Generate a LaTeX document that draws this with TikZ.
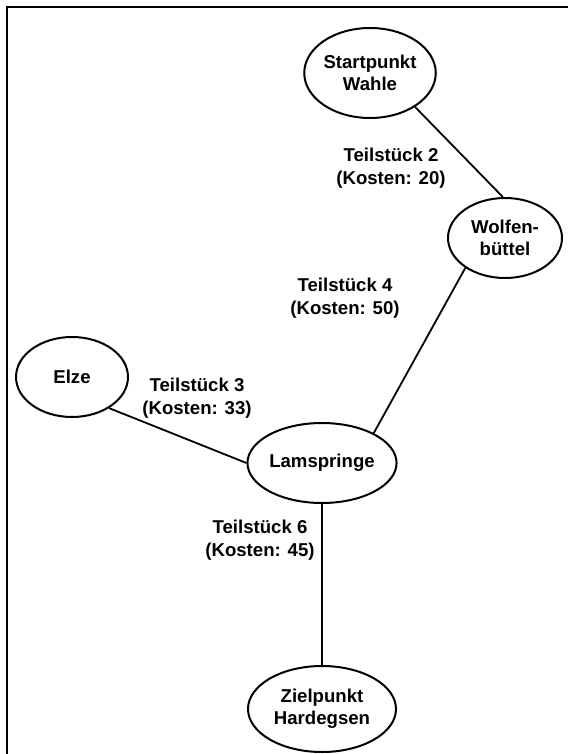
\documentclass[tikz,border=0pt]{standalone}
\usepackage{fontspec}
\setmainfont{Liberation Sans}
\usetikzlibrary{shapes.geometric}
\begin{document}
\begin{tikzpicture}[x=1pt,y=-1pt,
  city/.style={ellipse,draw,line width=2pt,inner sep=0pt,align=center,font=\fontsize{18.6}{22}\selectfont\bfseries},
  lbl/.style={align=center,inner sep=0pt,font=\fontsize{18.6}{23}\selectfont\bfseries},
  edge/.style={line width=1.8pt}]
\useasboundingbox (0,0) rectangle (568,754);
\draw[line width=2pt] (7,754) -- (7,7) -- (568,7);
\node[city,minimum width=126pt,minimum height=90pt] (wahle) at (370,73) {Startpunkt\\Wahle};
\node[city,minimum width=114pt,minimum height=80pt] (wolf) at (505,238) {Wolfen-\\büttel};
\node[city,minimum width=112pt,minimum height=80pt] (elze) at (72,377) {Elze};
\node[city,minimum width=148pt,minimum height=80pt] (lams) at (322,463) {Lamspringe};
\node[city,minimum width=148pt,minimum height=86pt] (ziel) at (322,709) {Zielpunkt\\Hardegsen};
\draw[edge] (wahle.-37) -- (wolf.93);
\draw[edge] (wolf.-143) -- (lams.30);
\draw[edge] (elze.-40) -- (lams.180);
\draw[edge] (lams.south) -- (ziel.north);
\node[lbl] (l2) at (391,168) {Teilstück 2\\(Kosten: 20)};
\node[lbl] (l4) at (345,298) {Teilstück 4\\(Kosten: 50)};
\node[lbl] (l3) at (197,398) {Teilstück 3\\(Kosten: 33)};
\node[lbl] (l6) at (260,540) {Teilstück 6\\(Kosten: 45)};
\end{tikzpicture}
\end{document}
